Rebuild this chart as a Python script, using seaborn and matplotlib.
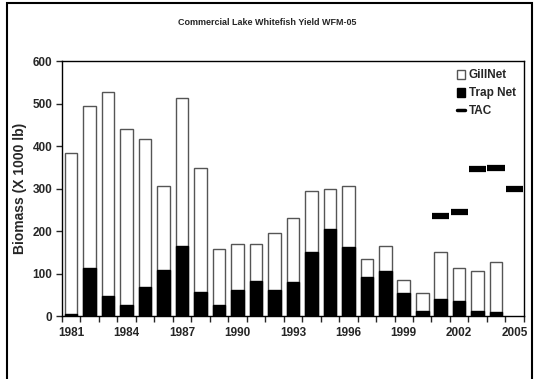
import numpy as np
import pandas as pd
import seaborn as sns
import matplotlib.pyplot as plt
from matplotlib.patches import Patch, Rectangle
from matplotlib.lines import Line2D

sns.set_style("white")
plt.rcParams['font.family'] = ['Liberation Sans', 'DejaVu Sans']

years = list(range(1981, 2006))
# total yield (gillnet + trap net) and trap net part, in 1000 lb
total = [383, 494, 527, 441, 416, 306, 513, 349, 157, 170, 170, 195, 230,
         295, 298, 306, 135, 165, 85, 54, 151, 113, 106, 128, np.nan]
trap = [4, 112, 47, 27, 68, 109, 166, 57, 25, 62, 83, 62, 81,
        150, 205, 163, 92, 105, 55, 11, 40, 35, 13, 9, np.nan]
tac = [np.nan] * 20 + [236, 245, 347, 349, 299]

df = pd.DataFrame({"year": [str(y) for y in years], "total": total, "trap": trap, "tac": tac})
order = df["year"].tolist()

fig = plt.figure(figsize=(5.34, 3.79), dpi=100)
ax = fig.add_axes([0.116, 0.166, 0.865, 0.673])

# gillnet stacked on top of trap net: draw total first, trap over it
sns.barplot(data=df, x="year", y="total", order=order, color="white", edgecolor="#555555",
            linewidth=1.0, width=0.68, saturation=1, ax=ax)
sns.barplot(data=df, x="year", y="trap", order=order, color="black", edgecolor="black",
            linewidth=1.0, width=0.68, saturation=1, ax=ax)

# TAC as short thick dashes
pos = np.arange(len(years))
m = ~np.isnan(df["tac"].to_numpy())
ax.hlines(df["tac"][m], pos[m] - 0.47, pos[m] + 0.47, colors="black", linewidth=4.5)

ax.set_xlim(-0.5, len(years) - 0.5)
ax.set_ylim(0, 600)
ax.set_yticks(range(0, 601, 100))
ax.set_xticks(pos[::3])
ax.set_xticklabels(order[::3])
ax.set_xticks(np.arange(-0.5, len(years), 1), minor=True)
ax.tick_params(axis="x", which="major", length=0, pad=8)
ax.tick_params(axis="x", which="minor", length=4, width=1, direction="out", bottom=True)
ax.tick_params(axis="y", length=4, width=1, direction="out", left=True, pad=3)
for lab in ax.get_xticklabels() + ax.get_yticklabels():
    lab.set_fontweight("bold")
    lab.set_fontsize(8.5)

for s in ax.spines.values():
    s.set_color("black")
    s.set_linewidth(1)

ax.set_xlabel("")
ax.set_ylabel("Biomass (X 1000 lb)", fontsize=10, fontweight="bold", labelpad=4)
fig.text(0.5, 0.94, "Commercial Lake Whitefish Yield WFM-05", ha="center", va="center",
         fontsize=6.5, fontweight="bold")

handles = [Patch(facecolor="white", edgecolor="#555555", linewidth=1),
           Patch(facecolor="black", edgecolor="black"),
           Line2D([0], [0], color="black", linewidth=2.5)]
ax.legend(handles, ["GillNet", "Trap Net", "TAC"], loc="upper right", frameon=False,
          prop={"weight": "bold", "size": 8.5}, handlelength=0.7, handleheight=0.8,
          handletextpad=0.3, labelspacing=0.5, borderaxespad=0.3)

# outer frame of the chart
fig.patches.append(Rectangle((7 / 534, -0.05), 525 / 534, 1.05 - 3 / 379, transform=fig.transFigure,
                             fill=False, edgecolor="black", linewidth=1.5))

fig.savefig("out.png", dpi=100)
